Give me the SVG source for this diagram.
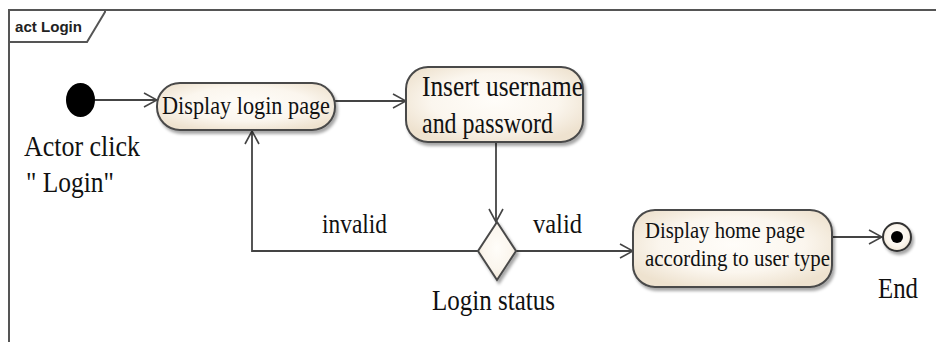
<svg xmlns="http://www.w3.org/2000/svg" width="936" height="342" viewBox="0 0 936 342">
<style>
.t{font-family:"Liberation Serif","Times New Roman",serif;fill:#111}
.n{stroke:#4a4a4a;stroke-width:2;fill:url(#cream);filter:url(#sh)}
.c{stroke:#444;stroke-width:1.8;fill:none;marker-end:url(#ah)}
</style>
<defs>
<radialGradient id="cream" cx="0.5" cy="0.45" r="0.6">
<stop offset="0" stop-color="#fffdf9"/>
<stop offset="0.6" stop-color="#fbf6ee"/>
<stop offset="1" stop-color="#eee2cf"/>
</radialGradient>
<filter id="sh" x="-10%" y="-20%" width="125%" height="150%">
<feDropShadow dx="2" dy="3" stdDeviation="1.8" flood-color="#000" flood-opacity="0.35"/>
</filter>
<marker id="ah" viewBox="0 0 15 16" refX="14" refY="8" markerWidth="15" markerHeight="16" markerUnits="userSpaceOnUse" orient="auto">
<path d="M1,1 L14,8 L1,15" fill="none" stroke="#444" stroke-width="1.6"/>
</marker>
</defs>
<g id="frame">
<path d="M9,342 V10 H936" fill="none" stroke="#555" stroke-width="2"/>
<path d="M9,42 H87 L105,12 V10" fill="none" stroke="#555" stroke-width="2"/>
<text x="15" y="32" font-family="Liberation Sans,Arial,sans-serif" font-weight="bold" font-size="14" textLength="67" lengthAdjust="spacingAndGlyphs" fill="#222">act Login</text>
</g>
<g id="connectors">
<line class="c" x1="95" y1="100" x2="157" y2="100"/>
<line class="c" x1="335" y1="101" x2="406" y2="101"/>
<line class="c" x1="496" y1="142" x2="496" y2="222"/>
<polyline class="c" points="478,251 252,251 252,131"/>
<line class="c" x1="516" y1="251" x2="633" y2="251"/>
<line class="c" x1="832" y1="237" x2="882" y2="237"/>
<text class="t" x="322" y="233" font-size="27" textLength="65" lengthAdjust="spacingAndGlyphs">invalid</text>
<text class="t" x="533" y="233" font-size="27" textLength="49" lengthAdjust="spacingAndGlyphs">valid</text>
</g>
<g id="start">
<ellipse cx="80.5" cy="100" rx="14.5" ry="17" fill="#000"/>
<text class="t" x="24" y="156" font-size="30" textLength="116" lengthAdjust="spacingAndGlyphs">Actor click</text>
<text class="t" x="26" y="192" font-size="30" textLength="88" lengthAdjust="spacingAndGlyphs">"  Login"</text>
</g>
<g id="displayLogin">
<rect class="n" x="157" y="83" width="178" height="47" rx="23" ry="23"/>
<text class="t" x="162" y="114" font-size="26" textLength="168" lengthAdjust="spacingAndGlyphs">Display login page</text>
</g>
<g id="insert">
<rect class="n" x="406" y="67" width="177" height="75" rx="22" ry="22"/>
<text class="t" x="422" y="96" font-size="30" textLength="161" lengthAdjust="spacingAndGlyphs">Insert username</text>
<text class="t" x="422" y="133" font-size="30" textLength="131" lengthAdjust="spacingAndGlyphs">and password</text>
</g>
<g id="decision">
<polygon class="n" points="497,222 516,251 497,280 478,251"/>
<text class="t" x="432" y="310" font-size="29" textLength="123" lengthAdjust="spacingAndGlyphs">Login status</text>
</g>
<g id="displayHome">
<rect class="n" x="633" y="210" width="199" height="77" rx="22" ry="22"/>
<text class="t" x="645" y="238" font-size="24" textLength="160" lengthAdjust="spacingAndGlyphs">Display home page</text>
<text class="t" x="645" y="266" font-size="24" textLength="185" lengthAdjust="spacingAndGlyphs">according to user type</text>
</g>
<g id="end">
<circle cx="897" cy="237" r="14" fill="url(#cream)" stroke="#333" stroke-width="2" filter="url(#sh)"/>
<circle cx="897" cy="237" r="6" fill="#000"/>
<text class="t" x="878" y="298" font-size="29" textLength="40" lengthAdjust="spacingAndGlyphs">End</text>
</g>
</svg>
